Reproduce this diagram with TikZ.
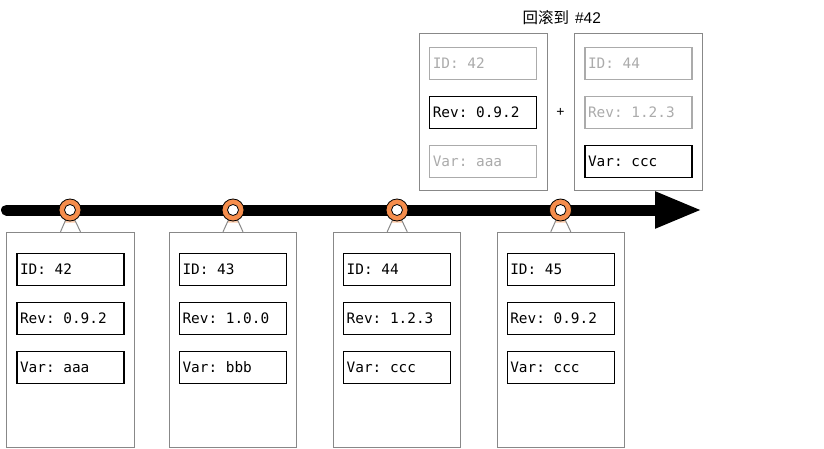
\documentclass[tikz,border=0pt]{standalone}
\usepackage{fontspec}
\setmainfont{Liberation Sans}
\setmonofont{DejaVu Sans Mono}
\newfontfamily\cjk{Noto Sans CJK SC}
\usetikzlibrary{positioning,arrows.meta}
\definecolor{ringorange}{HTML}{F58D4C}
\definecolor{paleorange}{HTML}{FCCBAA}
\definecolor{cardgray}{HTML}{888888}
\definecolor{fadegray}{HTML}{ABABAB}
% one monospace cell of blank
\newcommand{\monogap}{\hbox{\phantom{0}}}

\begin{document}
\begin{tikzpicture}[x=1pt,y=-1pt,
	card node/.style = {draw=cardgray, line width=1pt, fill=white, minimum width=127.5pt, inner sep=0pt},
	field node/.style = {draw, line width=1.1pt, minimum width=107pt, minimum height=32pt, inner xsep=3pt, inner ysep=0pt, text width=101pt, align=left, font=\ttfamily\fontsize{14.4}{16}\selectfont},
	faded node/.style = {field node, draw=fadegray, text=fadegray},
	ring node/.style = {circle, draw, line width=0.8pt, fill=ringorange, minimum size=22pt, inner sep=0pt},
	hole node/.style = {circle, draw, line width=0.8pt, fill=white, minimum size=11pt, inner sep=0pt}]
	
	\useasboundingbox (0,0) rectangle (824,449);
	
	% timeline
	\coordinate (start) at (6.5,210);
	\coordinate (tip) at (702,210);
	\draw[line width=11pt, line cap=round, -{Triangle[length=47pt,width=34pt]}] (start) -- (tip);
	
	% commits
	\node[card node, minimum height=215pt] (c1) at (70.5,339.8) {};
	\node[card node, minimum height=215pt] (c2) at (233,339.8) {};
	\node[card node, minimum height=215pt] (c3) at (397.2,339.8) {};
	\node[card node, minimum height=215pt] (c4) at (560.8,339.8) {};
	
	\node[field node, below=21pt of c1.north] (id1) {ID:\monogap 42};
	\node[field node, below=16pt of id1] (rev1) {Rev:\monogap 0.9.2};
	\node[field node, below=16pt of rev1] (var1) {Var:\monogap aaa};
	
	\node[field node, below=21pt of c2.north] (id2) {ID:\monogap 43};
	\node[field node, below=16pt of id2] (rev2) {Rev:\monogap 1.0.0};
	\node[field node, below=16pt of rev2] (var2) {Var:\monogap bbb};
	
	\node[field node, below=21pt of c3.north] (id3) {ID:\monogap 44};
	\node[field node, below=16pt of id3] (rev3) {Rev:\monogap 1.2.3};
	\node[field node, below=16pt of rev3] (var3) {Var:\monogap ccc};
	
	\node[field node, below=21pt of c4.north] (id4) {ID:\monogap 45};
	\node[field node, below=16pt of id4] (rev4) {Rev:\monogap 0.9.2};
	\node[field node, below=16pt of rev4] (var4) {Var:\monogap ccc};
	
	% markers
	\coordinate (m1) at (70,210);
	\coordinate (m2) at (233,210);
	\coordinate (m3) at (397,210);
	\coordinate (m4) at (560.5,210);
	
	\fill[white] ([xshift=-10pt]c1.north) -- (m1) -- ([xshift=10pt]c1.north) -- cycle;
	\fill[white] ([xshift=-10pt]c2.north) -- (m2) -- ([xshift=10pt]c2.north) -- cycle;
	\fill[white] ([xshift=-10pt]c3.north) -- (m3) -- ([xshift=10pt]c3.north) -- cycle;
	\fill[white] ([xshift=-10pt]c4.north) -- (m4) -- ([xshift=10pt]c4.north) -- cycle;
	\fill[paleorange] ([shift={(-5.5pt,-12.5pt)}]m1) -- (m1) -- ([shift={(5.5pt,-12.5pt)}]m1) -- cycle;
	\fill[paleorange] ([shift={(-5.5pt,-12.5pt)}]m2) -- (m2) -- ([shift={(5.5pt,-12.5pt)}]m2) -- cycle;
	\fill[paleorange] ([shift={(-5.5pt,-12.5pt)}]m3) -- (m3) -- ([shift={(5.5pt,-12.5pt)}]m3) -- cycle;
	\fill[paleorange] ([shift={(-5.5pt,-12.5pt)}]m4) -- (m4) -- ([shift={(5.5pt,-12.5pt)}]m4) -- cycle;
	\draw[cardgray, line width=1pt] ([xshift=-10pt]c1.north) -- (m1) -- ([xshift=10pt]c1.north);
	\draw[cardgray, line width=1pt] ([xshift=-10pt]c2.north) -- (m2) -- ([xshift=10pt]c2.north);
	\draw[cardgray, line width=1pt] ([xshift=-10pt]c3.north) -- (m3) -- ([xshift=10pt]c3.north);
	\draw[cardgray, line width=1pt] ([xshift=-10pt]c4.north) -- (m4) -- ([xshift=10pt]c4.north);
	
	\node[ring node] at (m1) {};
	\node[hole node] at (m1) {};
	\node[ring node] at (m2) {};
	\node[hole node] at (m2) {};
	\node[ring node] at (m3) {};
	\node[hole node] at (m3) {};
	\node[ring node] at (m4) {};
	\node[hole node] at (m4) {};
	
	% rollback
	\node[font=\fontsize{15.5}{17}\selectfont] (title) at (561.7,17.5) {{\cjk 回滚到}\hspace{6pt}\#42};
	\node[card node, minimum width=128pt, minimum height=157pt] (r1) at (483.3,111.7) {};
	\node[card node, minimum width=128pt, minimum height=157pt] (r2) at (638.5,111.7) {};
	
	\node[faded node, below=14pt of r1.north] (rid1) {ID:\monogap 42};
	\node[field node, below=16pt of rid1] (rrev1) {Rev:\monogap 0.9.2};
	\node[faded node, below=16pt of rrev1] (rvar1) {Var:\monogap aaa};
	
	\node[faded node, below=14pt of r2.north] (rid2) {ID:\monogap 44};
	\node[faded node, below=16pt of rid2] (rrev2) {Rev:\monogap 1.2.3};
	\node[field node, below=16pt of rrev2] (rvar2) {Var:\monogap ccc};
	
	\node[font=\fontsize{14}{16}\selectfont] (plus) at (560.5,112) {+};
\end{tikzpicture}
\end{document}
